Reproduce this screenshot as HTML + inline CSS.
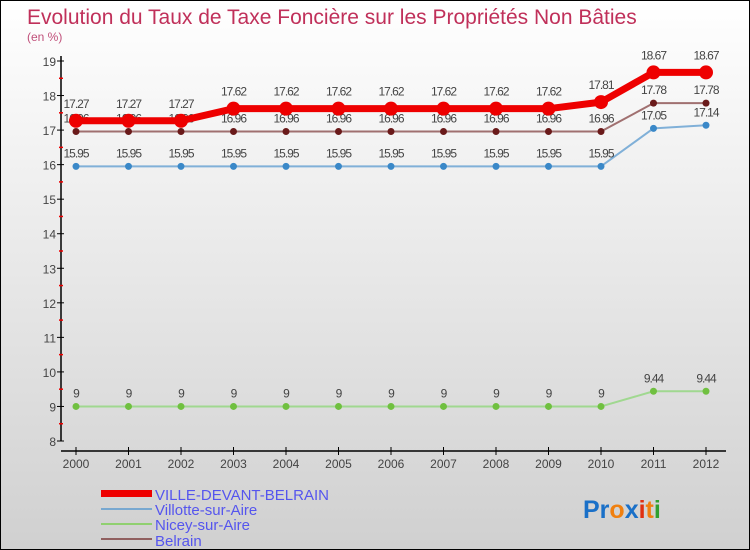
<!DOCTYPE html>
<html><head><meta charset="utf-8"><style>
body{margin:0;}
#wrap{width:748px;height:548px;border:1px solid #000;position:relative;background:linear-gradient(#ffffff,#d0d0d0);font-family:"Liberation Sans",sans-serif;overflow:hidden}
</style></head><body>
<div id="wrap">
<svg id="chart" width="748" height="548">
<text x="26" y="23" font-size="21" fill="#c0305a">Evolution du Taux de Taxe Foncière sur les Propriétés Non Bâties</text>
<text x="26" y="40" font-size="12" fill="#c0507a">(en %)</text>
<g id="axes"></g><g id="series"></g>
<g>
<rect x="100" y="489" width="51" height="7" fill="#e00"/>
<text x="154" y="499" font-size="15" fill="#5555ee">VILLE-DEVANT-BELRAIN</text>
<rect x="100" y="507" width="51" height="2" fill="#78a8d0"/>
<text x="154" y="514" font-size="15" fill="#5555ee">Villotte-sur-Aire</text>
<rect x="100" y="522" width="51" height="2" fill="#90d070"/>
<text x="154" y="529" font-size="15" fill="#5555ee">Nicey-sur-Aire</text>
<rect x="100" y="537" width="51" height="2" fill="#906060"/>
<text x="154" y="545" font-size="15" fill="#5555ee">Belrain</text>
</g>
<text x="582" y="517" font-size="25" font-weight="bold"><tspan fill="#1a70c8">Pr</tspan><tspan fill="#f08010">o</tspan><tspan fill="#1a70c8">x</tspan><tspan fill="#e03010">i</tspan><tspan fill="#f08010">t</tspan><tspan fill="#30a030">i</tspan></text>
</svg>
</div>
<script>
const years=[2000,2001,2002,2003,2004,2005,2006,2007,2008,2009,2010,2011,2012];
const ville=[17.27,17.27,17.27,17.62,17.62,17.62,17.62,17.62,17.62,17.62,17.81,18.67,18.67];
const villotte=[15.95,15.95,15.95,15.95,15.95,15.95,15.95,15.95,15.95,15.95,15.95,17.05,17.14];
const nicey=[9,9,9,9,9,9,9,9,9,9,9,9.44,9.44];
const belrain=[16.96,16.96,16.96,16.96,16.96,16.96,16.96,16.96,16.96,16.96,16.96,17.78,17.78];
const yTicks=[8,9,10,11,12,13,14,15,16,17,18,19];
const NS="http://www.w3.org/2000/svg";
function X(i){return 75+(705-75)*i/(years.length-1);}
function Y(v){return 440-(v-8)*(440-60)/11;}
function mk(t,a,p){const e=document.createElementNS(NS,t);for(const k in a)e.setAttribute(k,a[k]);p.appendChild(e);return e;}
const ax=document.getElementById('axes');
let yl=mk('line',{x1:60,y1:55,x2:60,y2:440,stroke:'#000','stroke-width':1.5},ax);


yTicks.forEach(v=>{
 mk('line',{x1:56,y1:Y(v),x2:63,y2:Y(v),stroke:'#000'},ax);
 if(v<19)mk('line',{x1:58,y1:Y(v+0.5),x2:62,y2:Y(v+0.5),stroke:'#e00','stroke-width':1.5},ax);
 const t=mk('text',{x:55,y:Y(v)+5,'font-size':12,fill:'#444','text-anchor':'end'},ax);t.textContent=v;
 
 
});
let xl=mk('line',{x1:60,y1:450,x2:725,y2:450,stroke:'#000','stroke-width':1.5},ax);


years.forEach((y,i)=>{
 mk('line',{x1:X(i),y1:446,x2:X(i),y2:454,stroke:'#000'},ax);
 const t=mk('text',{x:X(i),y:467,'font-size':12,fill:'#444','text-anchor':'middle'},ax);t.textContent=y;
 
 
});
const sg=document.getElementById('series');
function series(name,vals,color,lw,mcol,r,labOff){
 const g=mk('g',{},sg);
 
 
 mk('polyline',{points:vals.map((v,i)=>X(i)+','+Y(v)).join(' '),fill:'none',stroke:color,'stroke-width':lw,'stroke-linejoin':'round'},g);
 vals.forEach((v,i)=>{
  const c=mk('circle',{cx:X(i),cy:Y(v),r:r,fill:mcol},g);
  
  
  const t=mk('text',{x:X(i),y:Y(v)-labOff,'font-size':12,fill:'#444','text-anchor':'middle','letter-spacing':'-1'},g);
  t.textContent=v;
 });
}
series('nicey',nicey,'#a0d890',2,'#70c040',3.5,9);
series('villotte',villotte,'#80b0d8',2,'#3a88c8',3.5,9);
series('belrain',belrain,'#a07070',2,'#6a1a1a',3.5,9);
series('ville',ville,'#ee0000',7,'#ee0000',7,13);
</script>
</body></html>
